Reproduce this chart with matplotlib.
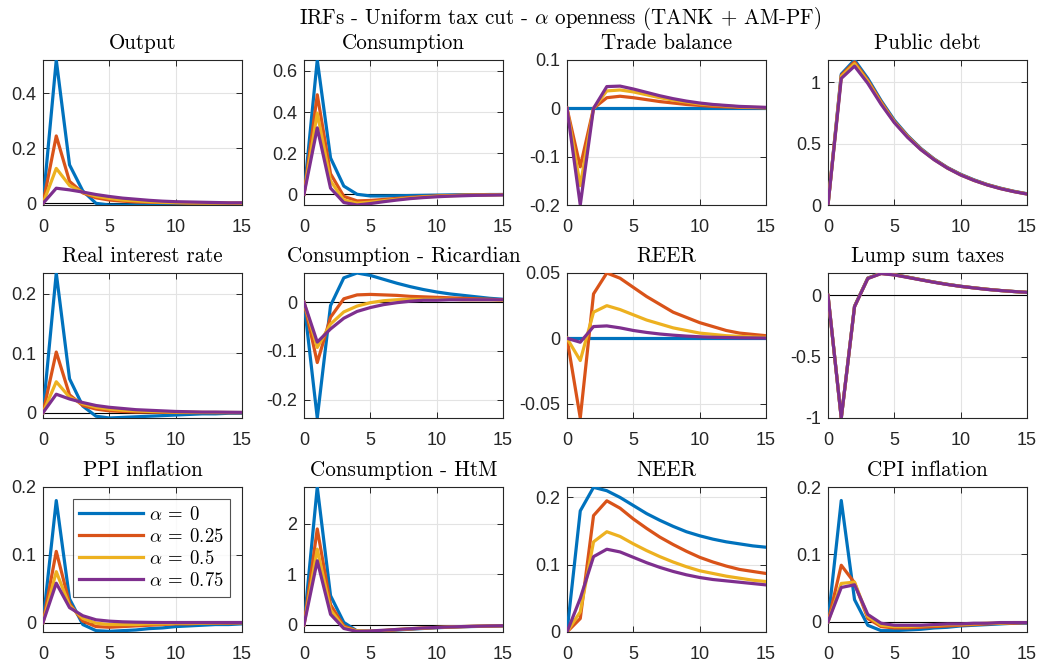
import numpy as np
import matplotlib
matplotlib.use("Agg")
import matplotlib.pyplot as plt
from matplotlib.ticker import MultipleLocator, FuncFormatter

# horizon (quarters)
t = np.arange(16)

alphas = ['0', '0.25', '0.5', '0.75']

# IRFs, one list per alpha: [alpha=0, alpha=0.25, alpha=0.5, alpha=0.75]
output = [
    [0, 0.521, 0.14, 0.045, 0.0, -0.006, -0.006, -0.005, -0.004, -0.003, -0.002, -0.002, -0.001, -0.001, -0.001, 0.0],
    [0, 0.245, 0.08, 0.038, 0.02, 0.012, 0.008, 0.005, 0.004, 0.003, 0.002, 0.001, 0.001, 0.001, 0.0005, 0.0003],
    [0, 0.127, 0.065, 0.04, 0.026, 0.018, 0.012, 0.009, 0.006, 0.004, 0.003, 0.002, 0.0015, 0.001, 0.001, 0.0005],
    [0, 0.055, 0.049, 0.041, 0.032, 0.025, 0.019, 0.015, 0.011, 0.008, 0.006, 0.005, 0.004, 0.003, 0.002, 0.002],
]
consumption = [
    [0, 0.653, 0.177, 0.04, 0.0, -0.008, -0.008, -0.007, -0.006, -0.005, -0.004, -0.003, -0.002, -0.002, -0.001, -0.001],
    [0, 0.484, 0.1, -0.01, -0.032, -0.03, -0.025, -0.02, -0.015, -0.011, -0.008, -0.006, -0.004, -0.003, -0.002, -0.001],
    [0, 0.395, 0.065, -0.028, -0.043, -0.038, -0.031, -0.024, -0.018, -0.013, -0.01, -0.007, -0.005, -0.004, -0.003, -0.002],
    [0, 0.323, 0.03, -0.04, -0.052, -0.045, -0.036, -0.028, -0.021, -0.016, -0.012, -0.009, -0.007, -0.005, -0.004, -0.003],
]
trade_balance = [
    [0] * 16,
    [0, -0.121, 0.0, 0.022, 0.025, 0.022, 0.018, 0.014, 0.011, 0.008, 0.006, 0.004, 0.003, 0.002, 0.0015, 0.001],
    [0, -0.16, 0.0, 0.036, 0.038, 0.034, 0.028, 0.022, 0.017, 0.013, 0.009, 0.007, 0.005, 0.003, 0.002, 0.0015],
    [0, -0.2, 0.0, 0.045, 0.046, 0.04, 0.033, 0.026, 0.02, 0.015, 0.011, 0.008, 0.006, 0.004, 0.003, 0.002],
]
public_debt = [
    [0, 1.065, 1.18, 1.03, 0.85, 0.69, 0.565, 0.46, 0.375, 0.305, 0.25, 0.205, 0.167, 0.137, 0.112, 0.092],
    [0, 1.055, 1.165, 1.015, 0.84, 0.68, 0.56, 0.455, 0.372, 0.303, 0.247, 0.202, 0.165, 0.135, 0.11, 0.09],
    [0, 1.045, 1.15, 1.005, 0.83, 0.675, 0.555, 0.452, 0.37, 0.3, 0.245, 0.2, 0.164, 0.134, 0.11, 0.09],
    [0, 1.03, 1.13, 0.99, 0.82, 0.67, 0.55, 0.45, 0.368, 0.3, 0.244, 0.2, 0.163, 0.133, 0.109, 0.089],
]
real_rate = [
    [0, 0.235, 0.057, 0.011, -0.006, -0.009, -0.008, -0.007, -0.006, -0.005, -0.004, -0.003, -0.002, -0.002, -0.001, -0.001],
    [0, 0.102, 0.03, 0.012, 0.006, 0.003, 0.002, 0.001, 0.001, 0.0005, 0.0003, 0.0002, 0.0001, 0.0, 0.0, 0.0],
    [0, 0.052, 0.026, 0.015, 0.009, 0.006, 0.004, 0.003, 0.002, 0.0015, 0.001, 0.0008, 0.0005, 0.0004, 0.0003, 0.0002],
    [0, 0.031, 0.023, 0.017, 0.012, 0.009, 0.007, 0.005, 0.004, 0.003, 0.002, 0.0015, 0.001, 0.001, 0.0007, 0.0005],
]
cons_ricardian = [
    [0, -0.238, -0.007, 0.05, 0.06, 0.055, 0.047, 0.039, 0.032, 0.026, 0.021, 0.017, 0.014, 0.011, 0.008, 0.006],
    [0, -0.124, -0.031, 0.007, 0.015, 0.016, 0.015, 0.014, 0.012, 0.011, 0.01, 0.009, 0.008, 0.007, 0.006, 0.005],
    [0, -0.093, -0.045, -0.02, -0.008, -0.001, 0.003, 0.005, 0.006, 0.006, 0.006, 0.006, 0.005, 0.005, 0.005, 0.004],
    [0, -0.082, -0.055, -0.033, -0.019, -0.011, -0.005, -0.001, 0.002, 0.004, 0.004, 0.005, 0.005, 0.005, 0.005, 0.005],
]
reer = [
    [0] * 16,
    [0, -0.061, 0.034, 0.05, 0.046, 0.039, 0.032, 0.026, 0.02, 0.016, 0.012, 0.009, 0.006, 0.004, 0.003, 0.002],
    [0, -0.017, 0.02, 0.025, 0.022, 0.018, 0.014, 0.011, 0.008, 0.006, 0.004, 0.003, 0.002, 0.0015, 0.001, 0.0007],
    [0, -0.003, 0.009, 0.0095, 0.008, 0.006, 0.0045, 0.0033, 0.0024, 0.0017, 0.0012, 0.0008, 0.0006, 0.0004, 0.0003, 0.0002],
]
lump_sum = [
    [0, -1.0, -0.088, 0.142, 0.182, 0.17, 0.15, 0.129, 0.109, 0.091, 0.075, 0.062, 0.05, 0.04, 0.032, 0.025],
    [0, -1.0, -0.09, 0.14, 0.18, 0.169, 0.149, 0.128, 0.108, 0.09, 0.074, 0.062, 0.05, 0.04, 0.032, 0.025],
    [0, -1.0, -0.091, 0.139, 0.179, 0.168, 0.148, 0.128, 0.108, 0.09, 0.074, 0.061, 0.05, 0.04, 0.032, 0.025],
    [0, -1.0, -0.092, 0.138, 0.178, 0.167, 0.147, 0.127, 0.107, 0.089, 0.074, 0.061, 0.049, 0.04, 0.032, 0.025],
]
ppi = [
    [0, 0.18, 0.035, -0.003, -0.012, -0.013, -0.012, -0.011, -0.009, -0.008, -0.006, -0.005, -0.004, -0.003, -0.003, -0.002],
    [0, 0.105, 0.028, 0.002, -0.006, -0.007, -0.006, -0.005, -0.004, -0.003, -0.002, -0.002, -0.001, -0.001, -0.001, -0.0005],
    [0, 0.075, 0.025, 0.006, -0.001, -0.003, -0.003, -0.003, -0.002, -0.002, -0.001, -0.001, -0.001, -0.0005, -0.0003, -0.0002],
    [0, 0.058, 0.022, 0.01, 0.004, 0.002, 0.001, 0.0005, 0.0002, 0.0, 0.0, 0.0, 0.0, 0.0, 0.0, 0.0],
]
cons_htm = [
    [0, 2.73, 0.58, 0.05, -0.12, -0.13, -0.12, -0.1, -0.085, -0.07, -0.055, -0.045, -0.035, -0.03, -0.025, -0.02],
    [0, 1.9, 0.4, -0.02, -0.12, -0.13, -0.115, -0.095, -0.08, -0.065, -0.052, -0.042, -0.034, -0.027, -0.022, -0.018],
    [0, 1.5, 0.3, -0.05, -0.12, -0.12, -0.11, -0.09, -0.075, -0.06, -0.05, -0.04, -0.032, -0.026, -0.02, -0.016],
    [0, 1.27, 0.21, -0.07, -0.13, -0.12, -0.105, -0.09, -0.075, -0.06, -0.05, -0.04, -0.032, -0.026, -0.02, -0.016],
]
neer = [
    [0, 0.18, 0.215, 0.21, 0.2, 0.188, 0.176, 0.166, 0.157, 0.149, 0.143, 0.138, 0.134, 0.131, 0.128, 0.126],
    [0, 0.02, 0.173, 0.195, 0.184, 0.168, 0.154, 0.141, 0.13, 0.12, 0.111, 0.104, 0.098, 0.093, 0.09, 0.087],
    [0, 0.03, 0.134, 0.149, 0.142, 0.131, 0.121, 0.112, 0.104, 0.097, 0.091, 0.087, 0.083, 0.08, 0.077, 0.075],
    [0, 0.05, 0.112, 0.123, 0.119, 0.111, 0.103, 0.096, 0.09, 0.085, 0.081, 0.078, 0.076, 0.074, 0.072, 0.07],
]
cpi = [
    [0, 0.18, 0.033, -0.005, -0.013, -0.013, -0.012, -0.011, -0.009, -0.008, -0.006, -0.005, -0.004, -0.003, -0.002, -0.002],
    [0, 0.084, 0.058, 0.005, -0.007, -0.009, -0.009, -0.008, -0.007, -0.006, -0.005, -0.004, -0.003, -0.002, -0.002, -0.001],
    [0, 0.057, 0.059, 0.008, -0.005, -0.007, -0.007, -0.006, -0.005, -0.004, -0.004, -0.003, -0.002, -0.002, -0.001, -0.001],
    [0, 0.051, 0.055, 0.011, -0.002, -0.005, -0.005, -0.005, -0.004, -0.003, -0.003, -0.002, -0.002, -0.001, -0.001, -0.001],
]

titles = ['Output', 'Consumption', 'Trade balance', 'Public debt',
          'Real interest rate', 'Consumption - Ricardian', 'REER', 'Lump sum taxes',
          'PPI inflation', 'Consumption - HtM', 'NEER', 'CPI inflation']
irfs = [output, consumption, trade_balance, public_debt,
        real_rate, cons_ricardian, reer, lump_sum,
        ppi, cons_htm, neer, cpi]
ylims = [(-0.006, 0.521), (-0.052, 0.653), (-0.2, 0.1), (0, 1.18),
         (-0.009, 0.235), (-0.238, 0.06), (-0.061, 0.05), (-1.0, 0.183),
         (-0.014, 0.2), (-0.14, 2.73), (0, 0.2155), (-0.015, 0.2)]
ysteps = [0.2, 0.2, 0.1, 0.5, 0.1, 0.1, 0.05, 0.5, 0.1, 1, 0.1, 0.1]

# matlab default line colours
colors = ['#0072BD', '#D95319', '#EDB120', '#7E2F8E']

plt.rcParams['mathtext.fontset'] = 'cm'
plt.rcParams['axes.unicode_minus'] = False
plt.rcParams['font.family'] = ['Liberation Sans', 'DejaVu Sans']

W, H = 1044, 664
fig = plt.figure(figsize=(W / 100, H / 100), dpi=100)

lefts = [43, 304, 567, 828]
tops = [60, 273, 487]
aw, ah = 199, 145

fmt = FuncFormatter(lambda v, p: f'{v:g}' if abs(v) > 1e-12 else '0')

for k in range(12):
    r, c = divmod(k, 4)
    ax = fig.add_axes([lefts[c] / W, 1 - (tops[r] + ah) / H, aw / W, ah / H])
    ax.plot(t, np.zeros_like(t), color='k', lw=0.8, zorder=2)
    for i in range(4):
        ax.plot(t, irfs[k][i], color=colors[i], lw=2.3, zorder=3,
                label=rf'$\alpha\:=\:{alphas[i]}$')
    ax.set_xlim(0, 15)
    ax.set_ylim(*ylims[k])
    ax.xaxis.set_major_locator(MultipleLocator(5))
    ax.yaxis.set_major_locator(MultipleLocator(ysteps[k]))
    ax.yaxis.set_major_formatter(fmt)
    ax.grid(True, color='#e3e3e3', lw=0.8, zorder=0)
    ax.set_axisbelow(True)
    ax.tick_params(direction='in', length=4, width=0.7, top=True, right=True,
                   labelsize=13, colors='#262626', pad=5)
    ax.tick_params(axis='x', pad=10)
    for s in ax.spines.values():
        s.set_color('#262626')
        s.set_linewidth(0.8)
    ax.set_title(titles[k], family='cmr10', fontsize=15.2, pad=8)
    if k == 8:
        leg = ax.legend(loc='upper right', fontsize=13.5, handlelength=3.4,
                        frameon=True, fancybox=False, borderpad=0.35,
                        labelspacing=0.22, handletextpad=0.3, borderaxespad=0,
                        bbox_to_anchor=(0.94, 0.917))
        leg.get_frame().set_edgecolor('#262626')
        leg.get_frame().set_linewidth(0.8)

fig.text(560 / W, 1 - 18 / H, r'IRFs - Uniform tax cut - $\alpha$ openness (TANK + AM-PF)',
         family='cmr10', fontsize=15.1, ha='center', va='center')

fig.savefig('out.png', dpi=100)
